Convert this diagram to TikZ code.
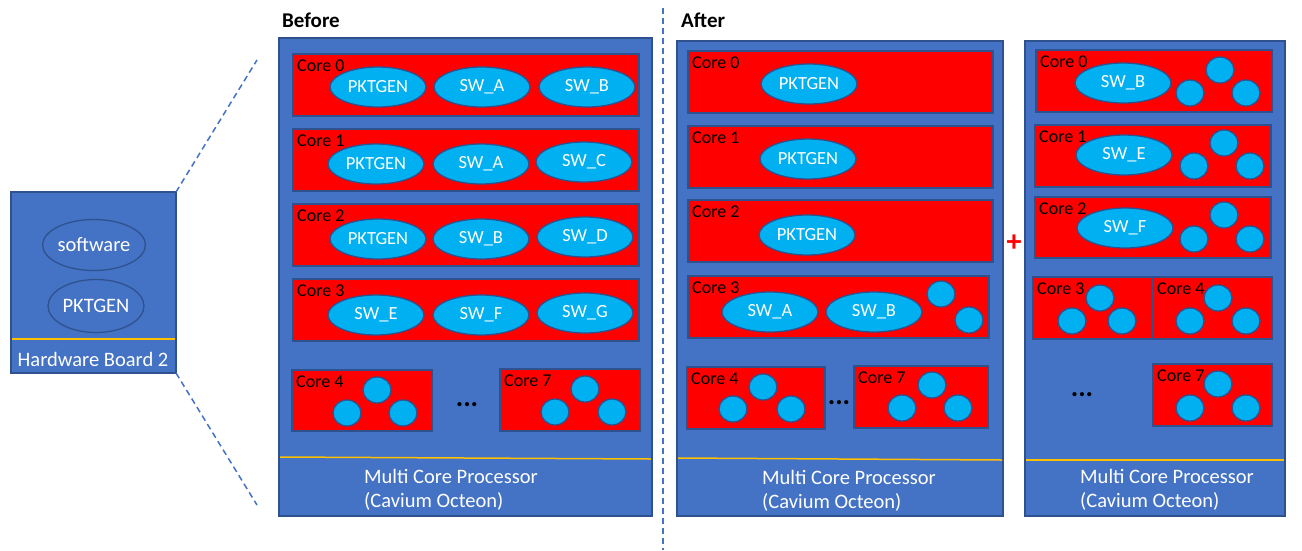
\documentclass[tikz,border=0pt]{standalone}
\usepackage{fontspec}
\setmainfont{Carlito}
\usetikzlibrary{shapes.geometric}
\definecolor{pblue}{HTML}{4472C4}
\definecolor{pborder}{HTML}{2F528F}
\definecolor{sky}{HTML}{00B0F0}
\definecolor{yel}{HTML}{FFC000}
\newcommand\mkcore[6]{%
  \node[corebox, minimum width=#4pt, minimum height=#5pt] (#1) at (#2,#3) {};
  \node[corelbl] (#1l) at ({#2+4},{#3+17}) {#6};}
\newcommand\mkpanel[5]{%
  \node[panel, minimum width=#4pt, minimum height=#5pt] (#1) at (#2,#3) {};}
\begin{document}
\begin{tikzpicture}[x=1pt,y=-1pt,
  panel/.style={draw=pborder, fill=pblue, line width=1.6pt, anchor=north west, inner sep=0, outer sep=0},
  corebox/.style={draw=pborder, fill=red, line width=1.6pt, anchor=north west, inner sep=0, outer sep=0},
  corelbl/.style={anchor=base west, inner sep=0, font=\fontsize{18}{20}\selectfont, text=black},
  proc/.style={ellipse, draw=pborder, fill=sky, line width=1.3pt, minimum width=96pt, minimum height=40pt, inner sep=0, text=white, font=\fontsize{18.5}{20}\selectfont},
  thr/.style={ellipse, draw=pborder, fill=sky, line width=1.3pt, minimum width=28pt, minimum height=26pt, inner sep=0},
  bottxt/.style={anchor=base west, inner sep=0, text=white, font=\fontsize{20.5}{22}\selectfont},
  head/.style={anchor=base west, inner sep=0, font=\fontsize{21}{22}\selectfont\bfseries},
  yline/.style={draw=yel, line width=1.5pt},
  zoomline/.style={draw=pblue, line width=1.5pt, dash pattern=on 6pt off 4pt},
  dots/.style={anchor=base, inner sep=0, font=\fontsize{28}{28}\selectfont\bfseries},
]
\useasboundingbox[fill=white] (0,0) rectangle (1302,550);

% ---------------- Hardware board
\mkpanel{hw}{11}{192}{165}{181}
\node[ellipse, draw=pborder, line width=1.3pt, minimum width=96pt, minimum height=51pt, inner sep=0, text=white, font=\fontsize{20.5}{22}\selectfont] (hwsw) at (94,245) {software};
\node[ellipse, draw=pborder, line width=1.3pt, minimum width=96pt, minimum height=53pt, inner sep=0, text=white, font=\fontsize{20.5}{22}\selectfont] (hwpk) at (96,306) {PKTGEN};
\draw[yline] (12,339) -- (175,339);
\node[anchor=base, inner sep=0, text=white, font=\fontsize{20.5}{22}\selectfont] (hwt) at (93,366) {Hardware Board 2};
\coordinate (zt) at (257,60);
\coordinate (zb) at (257,505);
\draw[zoomline] (hw.north east) -- (zt);
\draw[zoomline] (hw.south east) -- (zb);

% divider
\coordinate (dvt) at (663,8);
\coordinate (dvb) at (663,550);
\draw[zoomline] (dvt) -- (dvb);

% ---------------- Before
\node[head] (hbefore) at (282,27) {Before};
\mkpanel{pb}{279}{38}{373}{478}
\mkcore{b0}{293}{54}{346}{62}{Core 0}
\node[proc] (b0p) at (378,87) {PKTGEN};
\node[proc] (b0a) at (482,87) {SW\_A};
\node[proc] (b0b) at (587,87) {SW\_B};
\mkcore{b1}{293}{129}{346}{62}{Core 1}
\node[proc] (b1p) at (376,164) {PKTGEN};
\node[proc] (b1a) at (481,164) {SW\_A};
\node[proc] (b1c) at (584,162) {SW\_C};
\mkcore{b2}{293}{204}{346}{62}{Core 2}
\node[proc] (b2p) at (378,239) {PKTGEN};
\node[proc] (b2b) at (481,239) {SW\_B};
\node[proc] (b2d) at (585,237) {SW\_D};
\mkcore{b3}{293}{279}{346}{62}{Core 3}
\node[proc] (b3e) at (376,315) {SW\_E};
\node[proc] (b3f) at (481,315) {SW\_F};
\node[proc] (b3g) at (585,313) {SW\_G};
\mkcore{b4}{292}{370}{140}{61}{Core 4}
\node[thr] (b4a) at (377,390) {};
\node[thr] (b4b) at (347,413) {};
\node[thr] (b4c) at (403,413) {};
\node[dots] (bdots) at (467,406) {...};
\mkcore{b7}{500}{369}{140}{62}{Core 7}
\node[thr] (b7a) at (585,389) {};
\node[thr] (b7b) at (555,412) {};
\node[thr] (b7c) at (612,412) {};
\draw[yline] (280,457) -- (651,459);
\node[bottxt] (bt1) at (364,483) {Multi Core Processor};
\node[bottxt] (bt2) at (364,507) {(Cavium Octeon)};

% ---------------- After 1
\node[head] (hafter) at (681,27) {After};
\mkpanel{pa}{677}{41}{326}{475}
\mkcore{a0}{688}{51}{305}{62}{Core 0}
\node[proc] (a0p) at (809,84) {PKTGEN};
\mkcore{a1}{688}{126}{305}{62}{Core 1}
\node[proc] (a1p) at (808,159) {PKTGEN};
\mkcore{a2}{688}{200}{305}{62}{Core 2}
\node[proc] (a2p) at (807,235) {PKTGEN};
\mkcore{a3}{688}{276}{301}{62}{Core 3}
\node[proc] (a3a) at (770,312) {SW\_A};
\node[proc] (a3b) at (874,312) {SW\_B};
\node[thr] (a3c) at (941,294) {};
\node[thr] (a3d) at (969,320) {};
\mkcore{a4}{687}{367}{138}{62}{Core 4}
\node[thr] (a4a) at (763,387) {};
\node[thr] (a4b) at (733,409) {};
\node[thr] (a4c) at (791,409) {};
\node[dots] (adots) at (839,404) {...};
\mkcore{a7}{854}{366}{134}{62}{Core 7}
\node[thr] (a7a) at (932,385) {};
\node[thr] (a7b) at (902,408) {};
\node[thr] (a7c) at (958,408) {};
\draw[yline] (678,458) -- (1002,460);
\node[bottxt] (at1) at (762,484) {Multi Core Processor};
\node[bottxt] (at2) at (762,508) {(Cavium Octeon)};

% plus
\node[inner sep=0, text=red, font=\fontsize{30}{30}\selectfont\bfseries] (plus) at (1014,243) {+};

% ---------------- After 2
\mkpanel{pc}{1025}{41}{260}{475}
\mkcore{c0}{1036}{50}{236}{62}{Core 0}
\node[proc] (c0b) at (1123,83) {SW\_B};
\node[thr] (c0x) at (1220,70) {};
\node[thr] (c0y) at (1190,93) {};
\node[thr] (c0z) at (1246,93) {};
\mkcore{c1}{1035}{125}{236}{62}{Core 1}
\node[proc] (c1e) at (1124,155) {SW\_E};
\node[thr] (c1x) at (1224,143) {};
\node[thr] (c1y) at (1194,166) {};
\node[thr] (c1z) at (1250,166) {};
\mkcore{c2}{1035}{197}{236}{61}{Core 2}
\node[proc] (c2f) at (1125,228) {SW\_F};
\node[thr] (c2x) at (1224,215) {};
\node[thr] (c2y) at (1194,239) {};
\node[thr] (c2z) at (1250,239) {};
\mkcore{c3}{1033}{277}{120}{62}{Core 3}
\node[thr] (c3x) at (1100,298) {};
\node[thr] (c3y) at (1072,321) {};
\node[thr] (c3z) at (1122,321) {};
\mkcore{c4}{1153}{277}{119}{62}{Core 4}
\node[thr] (c4x) at (1218,298) {};
\node[thr] (c4y) at (1190,321) {};
\node[thr] (c4z) at (1246,321) {};
\node[dots] (cdots) at (1082,396) {...};
\mkcore{c7}{1153}{364}{119}{62}{Core 7}
\node[thr] (c7x) at (1218,384) {};
\node[thr] (c7y) at (1190,408) {};
\node[thr] (c7z) at (1246,408) {};
\draw[yline] (1026,460) -- (1284,460);
\node[bottxt] (ct1) at (1080,483) {Multi Core Processor};
\node[bottxt] (ct2) at (1080,507) {(Cavium Octeon)};
\end{tikzpicture}
\end{document}
